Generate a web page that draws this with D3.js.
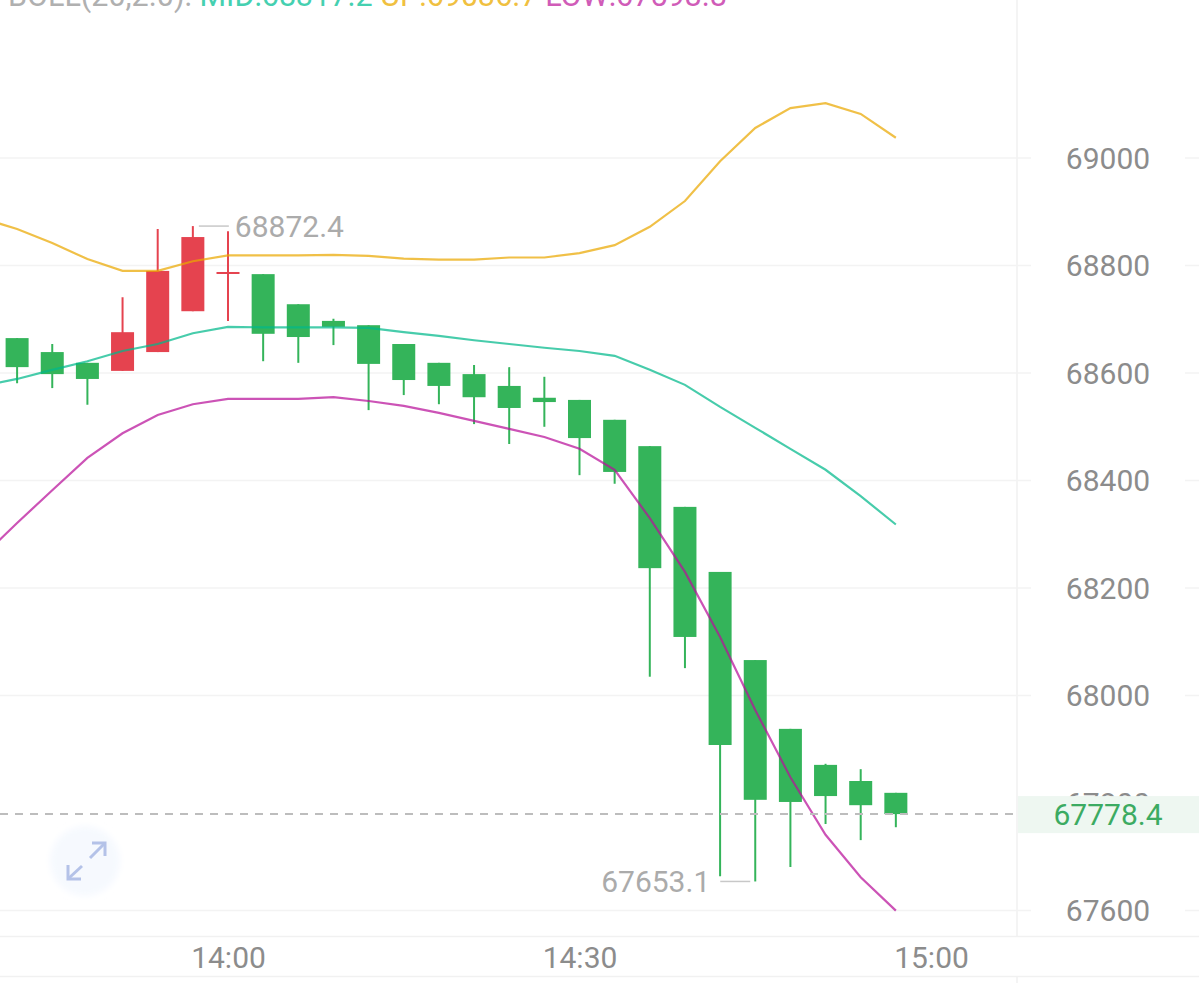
<!DOCTYPE html>
<html>
<head>
<meta charset="utf-8">
<style>
    html, body { margin: 0; padding: 0; background: #fff; }
    svg { display: block; }
    text { font-family: Roboto, sans-serif; }
    .domain { display: none; }
</style>
<script src="https://cdn.jsdelivr.net/npm/d3@7"></script>
</head>
<body>
<svg width="1199" height="983"></svg>
<script>
// 3 minute candles, the BOLL lines start one bar before the first candle
const times = ["13:39","13:42","13:45","13:48","13:51","13:54","13:57","14:00","14:03","14:06","14:09","14:12","14:15","14:18","14:21","14:24","14:27","14:30","14:33","14:36","14:39","14:42","14:45","14:48","14:51","14:54","14:57","15:00"];
const candleTimes = times.slice(1, 27);

const opens  = [68664,68638,68618,68603,68638,68714,68785,68783,68727,68696,68688,68653,68618,68597,68575,68553,68549,68512,68463,68350,68229,68065,67937,67870,67840,67818];
const highs  = [68664,68653,68618,68740,68867,68872.4,68863,68783,68727,68700,68688,68653,68618,68614,68610,68592,68549,68512,68463,68350,68229,68065,67937,67872,67862,67818];
const lows   = [68580,68571,68540,68603,68638,68714,68696,68621,68618,68651,68530,68558,68541,68504,68467,68499,68409,68393,68034,68050,67663,67653.1,67680,67760,67730,67754];
const closes = [68610,68597,68588,68675,68789,68852,68787,68672,68666,68685,68616,68586,68575,68554,68534,68545,68478,68415,68236,68108,67907,67805,67801,67812,67795,67778.4];
const rising = [false,false,false,true,true,true,true,false,false,false,false,false,false,false,false,false,false,false,false,false,false,false,false,false,false,false];

const bollTimes = times.slice(0, 27);
const bollUp  = [68887,68867,68841,68811,68789,68789,68807,68818,68818,68818,68819,68817,68812,68810,68810,68814,68814,68822,68837,68871,68919,68993,69055,69092,69101,69081,69036.7];
const bollMid = [68575,68588,68605,68621,68640,68653,68673,68685,68684,68684,68684,68683,68675,68668,68660,68653,68646,68640,68631,68605,68577,68536,68497,68458,68419,68370,68317.2];
const bollLow = [68257,68320,68381,68441,68487,68521,68541,68551,68551,68551,68554,68547,68538,68525,68510,68495,68480,68458,68419,68329,68229,68108,67972,67847,67740,67661,67598.8];

const priceTicks = [67600,67800,68000,68200,68400,68600,68800,69000];
const timeTicks = ["14:00","14:30","15:00"];
const lastPrice = 67778.4;
const maxPrice = 68872.4;
const minPrice = 67653.1;

const svg = d3.select("svg");
const green = "#34b45a", red = "#e5434f";

const x = d3.scalePoint().domain(times).range([-18.05, 931]);
const y = d3.scaleLinear().domain([67600, 69000]).range([910, 157.5]);

// frame lines
svg.selectAll(".hframe").data([936.5, 976.5]).join("line")
    .attr("x1", 0).attr("x2", 1199).attr("y1", d => d).attr("y2", d => d)
    .attr("stroke", "#f1f1f1").attr("stroke-width", 1.5);
svg.selectAll(".vframe").data([[0, 936], [977, 983]]).join("line")
    .attr("x1", 1017).attr("x2", 1017).attr("y1", d => d[0]).attr("y2", d => d[1])
    .attr("stroke", "#f1f1f1").attr("stroke-width", 1.5);

// price axis, grid goes under the labels with a gap. no line shows at 67800
const gridTick = g => g.selectAll(".tick line")
    .attr("stroke", d => d === 67800 ? "none" : "#f3f3f3").attr("stroke-width", 1.5);
svg.append("g")
    .call(d3.axisRight(y).tickValues(priceTicks).tickSize(1031).tickFormat(d => d))
    .call(gridTick)
    .call(g => g.selectAll(".tick text")
        .attr("x", 1108).attr("dy", "0.36em").attr("text-anchor", "middle")
        .attr("font-size", 30).attr("fill", "#8c8c8c").style("font-family", "Roboto, sans-serif"));
svg.append("g").attr("transform", "translate(1185,0)")
    .call(d3.axisRight(y).tickValues(priceTicks).tickSize(14).tickFormat(""))
    .call(gridTick);

// time axis
svg.append("g").attr("transform", "translate(0,957)")
    .call(d3.axisBottom(x).tickValues(timeTicks).tickSize(0))
    .call(g => g.selectAll(".tick text")
        .attr("y", 0).attr("dy", "0.36em")
        .attr("font-size", 30).attr("fill", "#8c8c8c").style("font-family", "Roboto, sans-serif"));

// expand button
const btn = svg.append("g").attr("transform", "translate(85,861)");
const soft = svg.append("defs").append("filter").attr("id", "soft");
soft.append("feGaussianBlur").attr("stdDeviation", 3);
btn.append("circle").attr("r", 35).attr("fill", "#f6f9fe").attr("filter", "url(#soft)");
btn.selectAll("path").data(["M5,-3 L19,-17", "M7,-18 L20,-18 L20,-5", "M-3,5 L-16,17", "M-17,4 L-17,18 L-4,18"]).join("path")
    .attr("d", d => d).attr("fill", "none").attr("stroke", "#b4c2e8").attr("stroke-width", 3);

// candles
const candles = svg.append("g").selectAll("g").data(candleTimes).join("g")
    .attr("fill", (d, i) => rising[i] ? red : green)
    .attr("stroke", (d, i) => rising[i] ? red : green);
candles.append("line")
    .attr("x1", d => x(d)).attr("x2", d => x(d))
    .attr("y1", (d, i) => y(highs[i])).attr("y2", (d, i) => y(lows[i]))
    .attr("stroke-width", 2);
candles.append("rect")
    .attr("x", d => x(d) - 11.5).attr("width", 23)
    .attr("y", (d, i) => y(Math.max(opens[i], closes[i])))
    .attr("height", (d, i) => Math.max(2, Math.abs(y(opens[i]) - y(closes[i]))))
    .attr("stroke", "none");

// BOLL lines
const line = d3.line().x((d, i) => x(bollTimes[i])).y(d => y(d));
[[bollUp, "#eaa800"], [bollMid, "#00b88a"], [bollLow, "#b8109a"]].forEach(s => {
    svg.append("path").attr("d", line(s[0])).attr("fill", "none")
        .attr("stroke", s[1]).attr("stroke-opacity", 0.72).attr("stroke-width", 2.2);
});

// last price
svg.append("rect").attr("x", 1018).attr("width", 181).attr("y", y(lastPrice) - 18).attr("height", 37).attr("fill", "#eef7f1");
svg.append("line").attr("x1", 0).attr("x2", 1015).attr("y1", y(lastPrice)).attr("y2", y(lastPrice))
    .attr("stroke", "#bdbdbd").attr("stroke-width", 2).attr("stroke-dasharray", "8,7");
svg.append("text").attr("x", 1108).attr("y", y(lastPrice)).attr("dy", "0.36em").attr("text-anchor", "middle")
    .attr("font-size", 30).attr("fill", "#3cab62").text(lastPrice);

// high / low marks
const hiX = x(candleTimes[highs.indexOf(maxPrice)]);
const loX = x(candleTimes[lows.indexOf(minPrice)]);
svg.append("line").attr("x1", hiX + 6).attr("x2", hiX + 36).attr("y1", y(maxPrice)).attr("y2", y(maxPrice)).attr("stroke", "#c8c8c8").attr("stroke-width", 1.5);
svg.append("text").attr("x", hiX + 42).attr("y", y(maxPrice)).attr("dy", "0.36em").attr("font-size", 30).attr("fill", "#ababab").text(maxPrice);
svg.append("line").attr("x1", loX - 35).attr("x2", loX - 5).attr("y1", y(minPrice)).attr("y2", y(minPrice)).attr("stroke", "#c8c8c8").attr("stroke-width", 1.5);
svg.append("text").attr("x", loX - 45).attr("y", y(minPrice)).attr("dy", "0.36em").attr("text-anchor", "end").attr("font-size", 30).attr("fill", "#ababab").text(minPrice);

// legend, cut off by the top of the screenshot
const legend = svg.append("text").attr("x", 8).attr("y", 6).attr("font-size", 30.5);
legend.append("tspan").attr("fill", "#b0b0b0").text("BOLL(20,2.0): ");
legend.append("tspan").attr("fill", "#45d0b0").text("MID:" + bollMid[26] + " ");
legend.append("tspan").attr("fill", "#f0c040").text("UP:" + bollUp[26] + " ");
legend.append("tspan").attr("fill", "#d05cb8").text("LOW:" + bollLow[26]);
</script>
</body>
</html>
